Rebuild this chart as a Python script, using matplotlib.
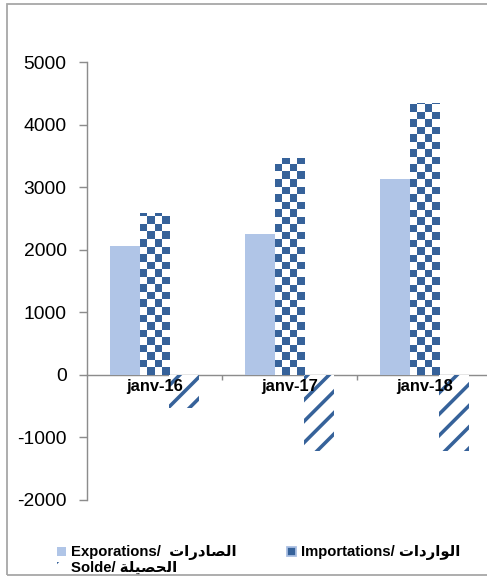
import numpy as np
import matplotlib
matplotlib.use('Agg')
import matplotlib.pyplot as plt
from matplotlib.patches import Patch, Rectangle

plt.rcParams['font.family'] = ['Liberation Sans', 'DejaVu Sans']
plt.rcParams['hatch.linewidth'] = 2.0
plt.rcParams['axes.unicode_minus'] = False

# Data.
categories = ['janv-16', 'janv-17', 'janv-18']
exports = [2055, 2250, 3125]
imports = [2590, 3470, 4340]
solde = [-530, -1220, -1220]
y_ticks = [-2000, -1000, 0, 1000, 2000, 3000, 4000, 5000]

# Arabic words in visual order (presentation forms), since matplotlib does not shape RTL.
ar_exports = '\uFE95\uFE8D\uFEAD\uFEA9\uFE8E\uFEBC\uFEDF\uFE8D'   # الصادرات
ar_imports = '\uFE95\uFE8D\uFEA9\uFEAD\uFE8D\uFEEE\uFEDF\uFE8D'   # الواردات
ar_solde = '\uFE94\uFEE0\uFEF4\uFEBC\uFEA4\uFEDF\uFE8D'           # الحصيلة

dark_blue = '#36629a'
light_blue = '#b0c5e7'
grey = '#8c8c8c'

fig = plt.figure(figsize=(487/128, 580/128), dpi=128)
ax = fig.add_axes([87/487, 80/580, 400/487, 438/580])

x = np.arange(len(categories))
w = 0.222

ax.bar(x - w, exports, w, color=light_blue, linewidth=0, zorder=2)

# Imports bars drawn white, then a checkerboard clipped to each bar.
imp_bars = ax.bar(x, imports, w, color='white', linewidth=0, zorder=2)
cell_y = 120
for bar in imp_bars:
    x0 = bar.get_x()
    h = bar.get_height()
    rows = int(np.ceil(h / cell_y))
    checker = (np.add.outer(np.arange(rows), np.arange(4)) % 2)[::-1]
    im = ax.imshow(checker, extent=(x0, x0 + w, 0, rows * cell_y), aspect='auto',
                   cmap=matplotlib.colors.ListedColormap(['white', dark_blue]),
                   interpolation='nearest', zorder=3)
    im.set_clip_path(bar)

ax.bar(x + w, solde, w, facecolor='white', edgecolor=dark_blue, hatch='//',
       linewidth=0, zorder=2)

ax.set_xlim(-0.5, 2.463)
ax.set_ylim(-2000, 5000)
ax.set_yticks(y_ticks)
ax.tick_params(axis='y', labelsize=10.8, length=4.5, width=0.8, color=grey, pad=7)

# Category boundaries as ticks, category names written under the zero line (over the bars).
ax.set_xticks([0.5, 1.5])
ax.set_xticklabels([])
ax.tick_params(axis='x', which='major', length=2.8, width=0.8, color=grey, direction='out')
for xi, cat in zip(x, categories):
    ax.annotate(cat, (xi, 0), xytext=(0, -2.5), textcoords='offset points',
                ha='center', va='top', fontweight='bold', fontsize=9.3, zorder=5)

for s in ['top', 'right']:
    ax.spines[s].set_visible(False)
ax.spines['bottom'].set_position(('data', 0))
ax.spines['bottom'].set_color(grey)
ax.spines['left'].set_color(grey)
ax.spines['bottom'].set_linewidth(0.8)
ax.spines['left'].set_linewidth(0.8)
ax.spines['bottom'].set_zorder(1)

handles = [
    Patch(facecolor=light_blue, linewidth=0),
    Patch(facecolor='white', edgecolor=dark_blue, hatch='//', linewidth=0),
    Patch(facecolor=dark_blue, edgecolor='#a9bfe2', linewidth=1),
]
labels = [
    'Exporations/  ' + ar_exports,
    'Solde/ ' + ar_solde,
    'Importations/ ' + ar_imports,
]
leg = fig.legend(handles, labels, loc='upper left', bbox_to_anchor=(50/487, 1 - 538/580),
                 ncol=2, frameon=False, borderpad=0, handlelength=0.55, handleheight=0.55,
                 handletextpad=0.35, labelspacing=0.05, columnspacing=3.4,
                 prop={'weight': 'bold', 'size': 8.4})

# Outer border of the chart area.
fig.patches.append(Rectangle((7/487, 5/580), 1.0, 571/580, transform=fig.transFigure,
                             fill=False, edgecolor='#a6a6a6', linewidth=1))

fig.savefig('out.png', dpi=128)
